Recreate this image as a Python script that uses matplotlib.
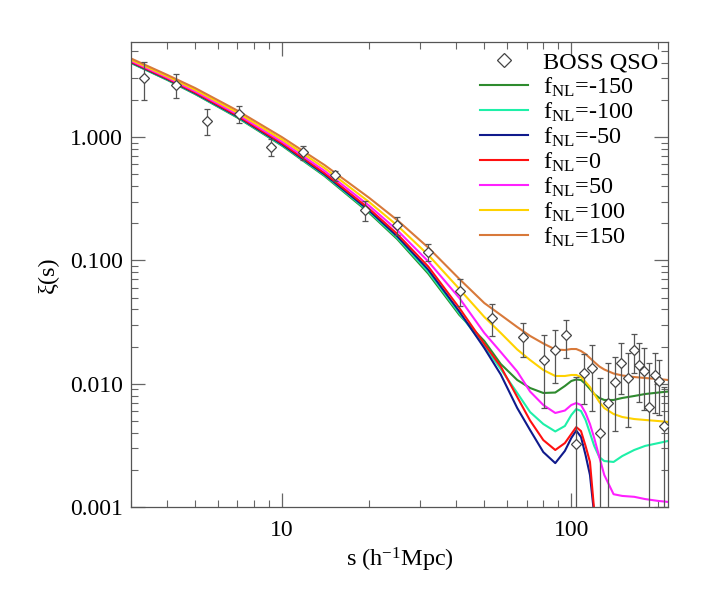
import matplotlib
matplotlib.use("Agg")
import matplotlib.pyplot as plt

# 字体
plt.rcParams['font.family'] = ['Liberation Serif', 'DejaVu Serif']
plt.rcParams['mathtext.fontset'] = 'custom'
plt.rcParams['mathtext.rm'] = 'Liberation Serif'
plt.rcParams['mathtext.it'] = 'Liberation Serif:italic'

# BOSS QSO 数据点
s_data = [3.32, 4.29, 5.51, 7.10, 9.12, 11.8, 15.2, 19.4, 24.9, 32.0, 41.3, 53.0, 68.2,
          80.5, 87.8, 95.5, 103.4, 110.7, 118.2, 126.0, 133.4, 141.1, 148.6, 156.5,
          164.8, 171.5, 178.9, 186.2, 194.9, 201.6, 209.8]
xi_data = [3.03, 2.65, 1.36, 1.54, 0.827, 0.750, 0.488, 0.256, 0.194, 0.117, 0.0568,
           0.0343, 0.0238, 0.01557, 0.01876, 0.0246, 0.00322, 0.0121, 0.01334, 0.0040,
           0.00701, 0.0103, 0.0148, 0.01106, 0.01876, 0.0143, 0.01275, 0.00647, 0.01177,
           0.0106, 0.00454]
xi_err = [1.03, 0.59, 0.33, 0.24, 0.13, 0.093, 0.046, 0.046, 0.032, 0.019, 0.0145,
          0.0100, 0.0072, 0.0092, 0.0087, 0.0085, 0.0082, 0.0052, 0.0073, 0.0071,
          0.0077, 0.0062, 0.0065, 0.0066, 0.0065, 0.0072, 0.0066, 0.0082, 0.0060,
          0.0050, 0.0049]

# 模型曲线
s_model = [3, 4, 5, 7, 10, 14, 20, 25, 32, 41, 50, 57, 65, 72, 80, 88, 95, 100, 104,
           108, 112, 116, 120, 125, 130, 140, 150, 165, 180, 200, 216]
xi_m150 = [3.99, 2.910, 2.232, 1.439, 0.850, 0.484, 0.2428, 0.1488, 0.0781, 0.0361, 0.0222,
           0.01445, 0.01072, 0.00923, 0.00841, 0.00848, 0.00958, 0.01052, 0.01082,
           0.01072, 0.00995, 0.00906, 0.00825, 0.00766, 0.00738, 0.00738, 0.00766,
           0.00795, 0.00825, 0.00848, 0.00864]
xi_m100 = [4.01, 2.932, 2.249, 1.453, 0.860, 0.491, 0.2478, 0.1525, 0.0808, 0.0372, 0.0202,
           0.01316, 0.00841, 0.00589, 0.00471, 0.00410, 0.00454, 0.00557, 0.00623,
           0.00601, 0.00508, 0.00398, 0.00313, 0.00254, 0.00236, 0.00232, 0.00259,
           0.00290, 0.00313, 0.00330, 0.00343]
xi_m50 = [4.04, 2.954, 2.270, 1.469, 0.871, 0.499, 0.2534, 0.1568, 0.0841, 0.0385, 0.01948,
          0.01188, 0.00635, 0.00421, 0.00279, 0.00227, 0.00285, 0.00363, 0.00417,
          0.00370, 0.00264, 0.00182, 0.00060]
xi_0 = [4.08, 2.987, 2.300, 1.491, 0.887, 0.511, 0.2621, 0.1637, 0.0891, 0.0411, 0.0210,
        0.01379, 0.00780, 0.00503, 0.00349, 0.00290, 0.00330, 0.00391, 0.00445,
        0.00413, 0.00313, 0.00232, 0.00060]
xi_p50 = [4.15, 3.043, 2.351, 1.531, 0.916, 0.533, 0.2772, 0.1758, 0.0981, 0.0495, 0.0258,
          0.01807, 0.01256, 0.00864, 0.00672, 0.00579, 0.00606, 0.00672, 0.00697,
          0.00672, 0.00579, 0.00471, 0.00363, 0.00254, 0.00182, 0.00127, 0.00123,
          0.00121, 0.00116, 0.00112, 0.00110]
xi_p100 = [4.24, 3.112, 2.418, 1.580, 0.953, 0.562, 0.2971, 0.1919, 0.1108, 0.0586, 0.0348,
           0.0258, 0.01894, 0.01557, 0.01292, 0.01155, 0.01155, 0.01177, 0.01177,
           0.01133, 0.01032, 0.00940, 0.00825, 0.00711, 0.00635, 0.00568, 0.00537,
           0.00517, 0.00508, 0.00498, 0.00489]
xi_p150 = [4.34, 3.195, 2.497, 1.640, 0.996, 0.594, 0.3213, 0.2122, 0.1270, 0.0707, 0.0451,
           0.0361, 0.0288, 0.0244, 0.0212, 0.01894, 0.01876, 0.01911, 0.01911,
           0.01841, 0.01741, 0.01616, 0.01500, 0.01379, 0.01304, 0.01210, 0.01166,
           0.01133, 0.01112, 0.01092, 0.01072]
# fNL=0 和 -50 在 s~120 以后掉出图外
s_short = [3, 4, 5, 7, 10, 14, 20, 25, 32, 41, 50, 57, 65, 72, 80, 88, 95, 100, 104,
           108, 112, 116, 122]

fnl_labels = ['-150', '-100', '-50', '0', '50', '100', '150']
colors = ['#2E8B2E', '#1EF0A8', '#101A8C', '#FF1010', '#FF20FF', '#FFD200', '#D8793A']

yticks = [0.001, 0.01, 0.1, 1.0]
ytick_labels = ['0.001', '0.010', '0.100', '1.000']
xticks = [10, 100]
xtick_labels = ['10', '100']

fig = plt.figure(figsize=(7.09, 5.91), dpi=100)
ax = fig.add_axes([0.1848, 0.1421, 0.7574, 0.7868])

curves = [(s_model, xi_m150), (s_model, xi_m100), (s_short, xi_m50), (s_short, xi_0),
          (s_model, xi_p50), (s_model, xi_p100), (s_model, xi_p150)]
line_handles = []
for (sx, xi), lab, c in zip(curves, fnl_labels, colors):
    h, = ax.plot(sx, xi, color=c, lw=1.5, label=r'f$_{\mathrm{NL}}$=' + lab)
    line_handles.append(h)

pts = ax.errorbar(s_data, xi_data, yerr=xi_err, fmt='D', ms=5.5, mfc='white', mec='#444444',
                  mew=0.9, ecolor='#555555', elinewidth=0.9, capsize=2.5, capthick=0.9,
                  zorder=5)

ax.set_xscale('log')
ax.set_yscale('log')
ax.set_xlim(3.0, 216)
ax.set_ylim(0.001, 5.9)

ax.set_xticks(xticks)
ax.set_xticklabels(xtick_labels)
ax.set_yticks(yticks)
ax.set_yticklabels(ytick_labels)
ax.tick_params(which='both', direction='in', top=True, right=True, color='#666666',
               labelsize=17)
ax.tick_params(which='major', length=10, width=0.9)
ax.tick_params(which='minor', length=5, width=0.8)
ax.tick_params(axis='x', which='major', pad=9)
ax.tick_params(axis='y', which='major', pad=6)
for sp in ax.spines.values():
    sp.set_color('#555555')
    sp.set_linewidth(0.9)

ax.set_xlabel(r's (h$^{-1}$Mpc)', fontsize=17.5)
ax.set_ylabel(r'ξ(s)', fontsize=17.5)
ax.yaxis.set_label_coords(-0.135, 0.5)

leg = ax.legend([pts[0]] + line_handles, ['BOSS QSO'] + [h.get_label() for h in line_handles],
                loc='upper right', frameon=False, fontsize=17.5, labelspacing=0.07,
                handlelength=2.0, handletextpad=0.6, borderaxespad=0.1,
                borderpad=0.3, markerscale=1.3)

plt.savefig('out.png', dpi=100)
